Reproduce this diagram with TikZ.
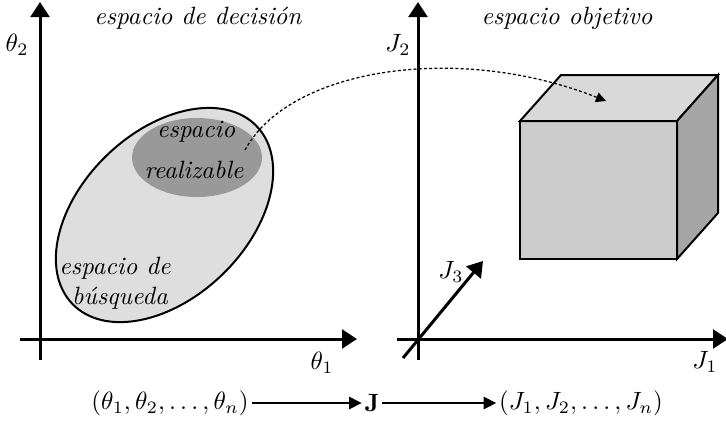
\documentclass[tikz,border=0pt]{standalone}
\usepackage{amsmath,amssymb}
\usepackage{xcolor}
\usetikzlibrary{arrows.meta}

\tikzset{
  axis/.style={line width=1.2pt,-{Triangle[length=6pt,width=7.5pt]}},
  mapto/.style={line width=0.5pt,-{Triangle[length=5pt,width=5pt]}},
  dotarrow/.style={line width=0.5pt,dash pattern=on 1.2pt off 0.9pt,-{Triangle[length=4pt,width=4pt]}},
  lbl/.style={font=\itshape},
  tight/.style={inner sep=1pt},
}

\begin{document}
\begin{tikzpicture}[x=0.4pt,y=0.4pt]
  \useasboundingbox (0,0) rectangle (726,423);
  % decision space
  \coordinate (h1a) at (20,84);
  \coordinate (h1b) at (357,84);
  \coordinate (v1a) at (40,63);
  \coordinate (v1b) at (40,421);
  \draw[axis] (h1a) -- (h1b);
  \draw[axis] (v1a) -- (v1b);
  \node (th1) at (322,60) {$\theta_1$};
  \node (th2) at (17,378) {$\theta_2$};
  \node[lbl] (tdec) at (198,405) {espacio de decisión};
  \draw[fill=black!13,line width=0.8pt,rotate around={44:(164.5,208)}] (164.5,208) ellipse (128 and 83);
  \fill[black!40] (197,265.5) ellipse (65 and 39.5);
  \node[lbl,anchor=east] (real1) at (244,291) {espacio};
  \node[lbl] (real2) at (194,253) {realizable};
  \node[lbl] (bus1) at (115,155) {espacio de};
  \node[lbl] (bus2) at (120,125) {búsqueda};
  % objective space
  \coordinate (h2a) at (397,84);
  \coordinate (h2b) at (728,84);
  \coordinate (v2a) at (418,63);
  \coordinate (v2b) at (418,421);
  \coordinate (d3a) at (403,65);
  \coordinate (d3b) at (483,162);
  \draw[axis] (h2a) -- (h2b);
  \draw[axis] (v2a) -- (v2b);
  \draw[axis] (d3a) -- (d3b);
  \node (j1) at (705,61) {$J_1$};
  \node (j2) at (398,378) {$J_2$};
  \node (j3) at (451,151) {$J_3$};
  \node[lbl] (tobj) at (567,405) {espacio objetivo};
  \filldraw[fill=black!20,line width=0.8pt] (520,164) rectangle (677,302);
  \filldraw[fill=black!15,line width=0.8pt] (520,302) -- (561,348) -- (718,348) -- (677,302) -- cycle;
  \filldraw[fill=black!35,line width=0.8pt] (677,302) -- (718,348) -- (718,210) -- (677,164) -- cycle;
  \coordinate (p0) at (245,273);
  \coordinate (p1) at (606,322);
  \draw[dotarrow] (p0) .. controls (290,356) and (460,380) .. (p1);
  % mapping
  \node[tight] (th) at (170,20) {$(\theta_1,\theta_2,\ldots,\theta_n)$};
  \node[tight] (J) at (372,20) {$\mathbf{J}$};
  \node[tight] (js) at (581,20) {$(J_1,J_2,\ldots,J_n)$};
  \draw[mapto] (th) -- (J);
  \draw[mapto] (J) -- (js);
\end{tikzpicture}
\end{document}
